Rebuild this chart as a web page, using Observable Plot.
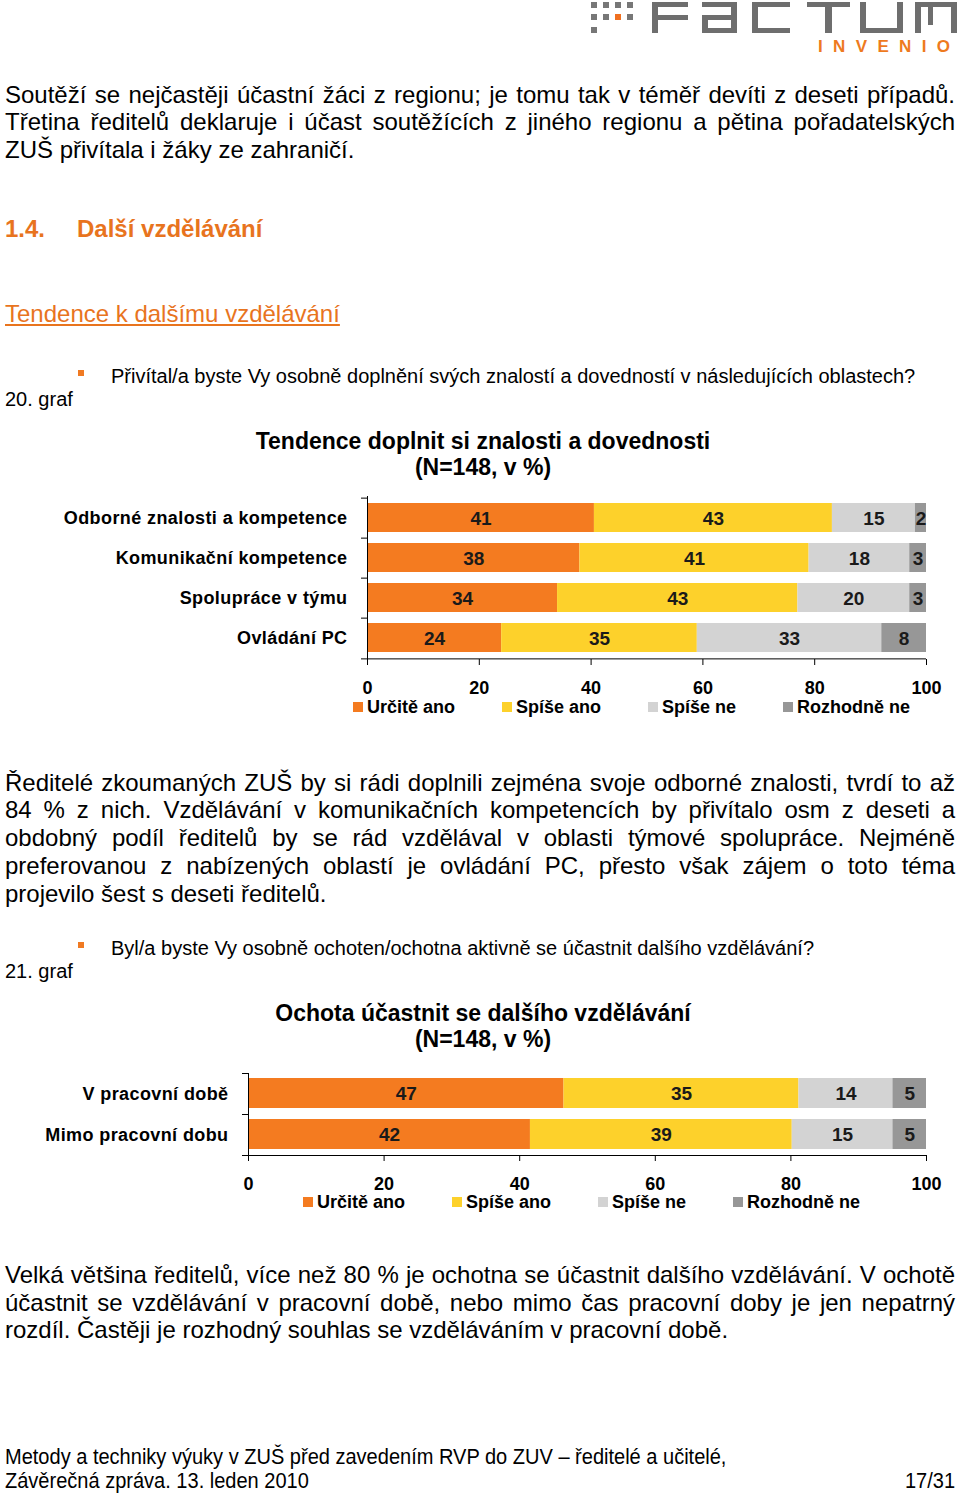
<!DOCTYPE html>
<html><head><meta charset="utf-8">
<script src="https://cdn.jsdelivr.net/npm/d3@7"></script>
<script src="https://cdn.jsdelivr.net/npm/@observablehq/plot@0.6"></script>
<style>
html,body{margin:0;padding:0;background:#fff;}
body{width:960px;height:1493px;position:relative;overflow:hidden;font-family:"Liberation Sans",Arial,sans-serif;color:#000;}
.abs{position:absolute;}
.ln{position:absolute;left:5px;width:950px;font-size:24px;line-height:28px;}
.j{text-align:justify;text-align-last:justify;}
.orange{color:#E8741E;}
.small{font-size:20px;line-height:24px;}
.ctitle{position:absolute;left:0;width:966px;text-align:center;font-weight:bold;font-size:23px;line-height:26px;}
.foot{position:absolute;font-size:22px;line-height:24px;white-space:nowrap;transform:scaleX(0.91);transform-origin:left center;}
.foot.r{transform-origin:right center;}
.lg-swatch{margin-right:47px;font-size:18px;font-weight:bold;}
.lg-swatch>svg{margin-right:4px;}
g[aria-label="y-axis tick label"] text{letter-spacing:0.4px;}
</style></head>
<body>
<script>
// ---------- data ----------
const series = ["Určitě ano", "Spíše ano", "Spíše ne", "Rozhodně ne"];
const seriesColors = ["#F47B20", "#FDD12B", "#D3D3D3", "#979797"];

const areas = ["Odborné znalosti a kompetence", "Komunikační kompetence", "Spolupráce v týmu", "Ovládání PC"];
const areasUrcite = [41, 38, 34, 24];
const areasSpiseAno = [43, 41, 43, 35];
const areasSpiseNe = [15, 18, 20, 33];
const areasRozhodne = [2, 3, 3, 8];

const times = ["V pracovní době", "Mimo pracovní dobu"];
const timesUrcite = [47, 42];
const timesSpiseAno = [35, 39];
const timesSpiseNe = [14, 15];
const timesRozhodne = [5, 5];

const xTicks = [0, 20, 40, 60, 80, 100];

// ---------- page text ----------
const page = document.body;
function el(html, cls, style) {
  const d = document.createElement("div");
  d.className = cls;
  d.innerHTML = html;
  Object.assign(d.style, style);
  page.appendChild(d);
  return d;
}
function para(lines, ys) {
  lines.forEach((t, i) => el(t, "ln" + (i < lines.length - 1 ? " j" : ""), {top: (ys[i] - 14) + "px"}));
}

// logo
el(`<svg width="380" height="56" viewBox="580 0 380 56" style="display:block">
<g fill="#777">
<rect x="591" y="2" width="6" height="6"/><rect x="603" y="2" width="6" height="6"/><rect x="615" y="2" width="6" height="6"/><rect x="627" y="2" width="6" height="6"/>
<rect x="591" y="14" width="6" height="6"/><rect x="603" y="14" width="6" height="6"/><rect x="627" y="14" width="6" height="6"/>
<rect x="591" y="27" width="6" height="6"/>
</g>
<rect x="615" y="14" width="6" height="6" fill="#F07020"/>
<g fill="#6E6E6E">
<rect x="652" y="2" width="6" height="31"/><rect x="652" y="2" width="36" height="5"/><rect x="652" y="15" width="36" height="5"/>
<rect x="702" y="2" width="35" height="5"/><rect x="731" y="2" width="6" height="31"/><rect x="702" y="15" width="35" height="5"/><rect x="702" y="15" width="6" height="18"/><rect x="702" y="28" width="35" height="5"/>
<rect x="752" y="2" width="38" height="5"/><rect x="752" y="2" width="6" height="31"/><rect x="752" y="28" width="38" height="5"/>
<rect x="807" y="2" width="43" height="5"/><rect x="825" y="2" width="7" height="31"/>
<rect x="860" y="2" width="6" height="31"/><rect x="897" y="2" width="6" height="31"/><rect x="860" y="28" width="43" height="5"/>
<rect x="915" y="2" width="42" height="5"/><rect x="915" y="2" width="6" height="31"/><rect x="951" y="2" width="6" height="31"/><rect x="928" y="2" width="5" height="23"/>
</g>
<text x="818" y="52" font-family="Liberation Sans" font-weight="bold" font-size="17" fill="#EE7A1E" textLength="132" lengthAdjust="spacing">INVENIO</text>
</svg>`, "abs", {left: "580px", top: "0px"});

para(["Soutěží se nejčastěji účastní žáci z regionu; je tomu tak v téměř devíti z deseti případů.",
      "Třetina ředitelů deklaruje i účast soutěžících z jiného regionu a pětina pořadatelských",
      "ZUŠ přivítala i žáky ze zahraničí."], [95, 122, 150]);

el(`<span style="display:inline-block;width:72px">1.4.</span>Další vzdělávání`, "ln orange", {top: (229 - 14) + "px", fontWeight: "bold"});
el(`<span style="text-decoration:underline">Tendence k dalšímu vzdělávání</span>`, "ln orange", {top: (314 - 14) + "px"});

function bullet(text, y, graf) {
  el("", "abs", {left: "78px", top: (y - 6) + "px", width: "6px", height: "6px", background: "#F07A22"});
  el(text, "abs small", {left: "111px", top: (y - 12) + "px", whiteSpace: "nowrap"});
  el(graf, "abs small", {left: "5px", top: (y + 23 - 12) + "px"});
}
bullet("Přivítal/a byste Vy osobně doplnění svých znalostí a dovedností v následujících oblastech?", 376, "20. graf");
el("Tendence doplnit si znalosti a dovednosti", "ctitle", {top: (441 - 13) + "px"});
el("(N=148, v %)", "ctitle", {top: (467 - 13) + "px"});

para(["Ředitelé zkoumaných ZUŠ by si rádi doplnili zejména svoje odborné znalosti, tvrdí to až",
      "84 % z nich. Vzdělávání v komunikačních kompetencích by přivítalo osm z deseti a",
      "obdobný podíl ředitelů by se rád vzdělával v oblasti týmové spolupráce. Nejméně",
      "preferovanou z nabízených oblastí je ovládání PC, přesto však zájem o toto téma",
      "projevilo šest s deseti ředitelů."], [783, 810, 838, 866, 894]);

bullet("Byl/a byste Vy osobně ochoten/ochotna aktivně se účastnit dalšího vzdělávání?", 948, "21. graf");
el("Ochota účastnit se dalšího vzdělávání", "ctitle", {top: (1013 - 13) + "px"});
el("(N=148, v %)", "ctitle", {top: (1039 - 13) + "px"});

para(["Velká většina ředitelů, více než 80 % je ochotna se účastnit dalšího vzdělávání. V ochotě",
      "účastnit se vzdělávání v pracovní době, nebo mimo čas pracovní doby je jen nepatrný",
      "rozdíl. Častěji je rozhodný souhlas se vzděláváním v pracovní době."], [1275, 1303, 1330]);

el("Metody a techniky výuky v ZUŠ před zavedením RVP do ZUV – ředitelé a učitelé,", "foot", {left: "5px", top: (1457 - 12) + "px"});
el("Závěrečná zpráva. 13. leden 2010", "foot", {left: "5px", top: (1481 - 12) + "px"});
el("17/31", "foot r", {right: "5px", top: (1481 - 12) + "px"});

// ---------- charts ----------
function rows(cats, cols) {
  const out = [];
  cats.forEach((c, i) => series.forEach((s, k) => out.push({cat: c, series: s, value: cols[k][i]})));
  return out;
}

function chart(cats, cols, opts) {
  const data = rows(cats, cols);
  const mt = 6, mb = 40;
  const step = opts.step;
  const height = mt + step * cats.length + mb;
  const stackOpts = {x: "value", y: "cat", z: "series", offset: "normalize", order: series};
  const plot = Plot.plot({
    width: 960, height,
    marginLeft: opts.left, marginRight: 34, marginTop: mt, marginBottom: mb,
    style: {fontFamily: "Liberation Sans, Arial, sans-serif", fontSize: "18px", fontWeight: "bold", color: "#000", background: "transparent"},
    x: {domain: [0, 1], label: null},
    y: {domain: cats, padding: 0, label: null},
    color: {domain: series, range: seriesColors},
    marks: [
      Plot.barX(data, Plot.stackX({...stackOpts, fill: "series", insetTop: 5, insetBottom: 6})),
      Plot.text(data, Plot.stackX({...stackOpts, text: "value", fill: "#1a1a1a", fontSize: 19, fontWeight: "bold"})),
      Plot.ruleX([0], {stroke: "#000"}),
      Plot.ruleY([cats[cats.length - 1]], {dy: step / 2, insetLeft: -6, stroke: "#000"}),
      Plot.axisY({tickSize: 0, tickPadding: 20}),
      Plot.axisY({tickSize: 6, dy: -step / 2, tickFormat: () => ""}),
      Plot.axisX(xTicks.map(d => d / 100), {tickSize: 6, tickPadding: 16, tickFormat: d => Math.round(d * 100)})
    ]
  });
  const wrap = document.createElement("div");
  wrap.className = "abs";
  wrap.style.left = "0px";
  wrap.style.top = (opts.top - mt) + "px";
  wrap.appendChild(plot);
  page.appendChild(wrap);

  const lg = Plot.legend({
    color: {domain: series, range: seriesColors},
    legend: "swatches", swatchSize: 10, className: "lg",
    style: {fontFamily: "Liberation Sans, Arial, sans-serif", fontSize: "18px", fontWeight: "bold", color: "#000"}
  });
  const lw = document.createElement("div");
  lw.className = "abs";
  lw.style.left = opts.legendLeft + "px";
  lw.style.top = (opts.legendY - 16.5) + "px";
  lw.style.width = "700px";
  lw.appendChild(lg);
  page.appendChild(lw);
}

chart(areas, [areasUrcite, areasSpiseAno, areasSpiseNe, areasRozhodne],
  {left: 367, top: 496, step: 40.75, legendLeft: 353, legendY: 707});
chart(times, [timesUrcite, timesSpiseAno, timesSpiseNe, timesRozhodne],
  {left: 248, top: 1073, step: 41, legendLeft: 303, legendY: 1202});
</script>
</body></html>
